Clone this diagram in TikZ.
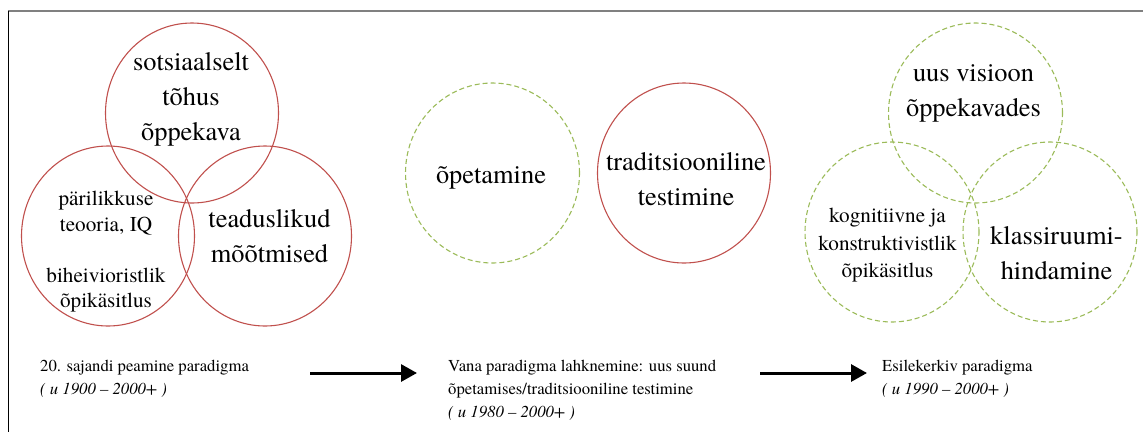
\documentclass[tikz,border=0pt]{standalone}
\usepackage{fontspec}
\setmainfont{texgyretermes}[Extension=.otf, UprightFont=*-regular, BoldFont=*-bold, ItalicFont=*-italic, BoldItalicFont=*-bolditalic]
\usetikzlibrary{shapes.geometric,arrows.meta}
\definecolor{redc}{HTML}{C0504D}
\definecolor{greenc}{HTML}{9BBB59}
\definecolor{framegray}{HTML}{808080}
\begin{document}
\begin{tikzpicture}[x=1pt,y=-1pt,
  redring/.style={draw=redc, line width=1.1pt, ellipse, minimum width=173pt, minimum height=180pt, inner sep=0pt},
  greenring/.style={draw=greenc, line width=1.1pt, dash pattern=on 5pt off 3pt, ellipse, minimum width=174pt, minimum height=180pt, inner sep=0pt},
  bigtext/.style={font=\fontsize{26.4}{35}\selectfont, align=center, inner sep=0pt},
  smalltext/.style={font=\fontsize{21.2}{25.5}\selectfont, align=center, inner sep=0pt},
  captext/.style={font=\fontsize{16.7}{23}\selectfont, align=left, anchor=north west, inner sep=0pt},
  flow/.style={line width=3pt, -{Triangle[length=16pt,width=17pt]}}]
\useasboundingbox (0,0) rectangle (1143,432);
% frame
\draw[framegray, line width=1.6pt] (8,11) -- (1143,11);
\draw[black, line width=1pt] (8,11) -- (8,432);
% left group
\node[redring] (c1) at (192,113) {};
\node[redring] (c2) at (108,236) {};
\node[redring] (c3) at (265,236) {};
\node[bigtext] (t1) at (191,99) {sotsiaalselt\\tõhus\\õppekava};
\node[smalltext] (t2) at (106,252) {pärilikkuse\\teooria, IQ\\[25.5pt]biheivioristlik\\õpikäsitlus};
\node[bigtext] (t3) at (269.5,236.5) {teaduslikud\\mõõtmised};
% middle group
\node[greenring] (c4) at (492.5,173) {};
\node[redring] (c5) at (684,173) {};
\node[bigtext] (t4) at (491,178) {õpetamine};
\node[bigtext] (t5) at (686,179.5) {traditsiooniline\\testimine};
% right group
\node[greenring] (c6) at (975.5,113) {};
\node[greenring] (c7) at (892,232) {};
\node[greenring] (c8) at (1050,232) {};
\node[bigtext] (t6) at (973.5,93.5) {uus visioon\\õppekavades};
\node[smalltext, font=\fontsize{21.2}{27.5}\selectfont] (t7) at (887.5,245.5) {kognitiivne ja\\konstruktivistlik\\õpikäsitlus};
\node[bigtext] (t8) at (1056.5,253.5) {klassiruumi-\\hindamine};
% captions
\node[captext] (p1) at (40,359.5) {20. sajandi peamine paradigma\\{\itshape ( u 1900 – 2000+ )}};
\node[captext] (p2) at (448,359.5) {Vana paradigma lahknemine: uus suund\\õpetamises/traditsiooniline testimine\\{\itshape ( u 1980 – 2000+ )}};
\node[captext] (p3) at (882,359.5) {Esilekerkiv paradigma\\{\itshape ( u 1990 – 2000+ )}};
% arrows
\coordinate (a1s) at (310,373);
\coordinate (a1e) at (417,373);
\coordinate (a2s) at (760,373);
\coordinate (a2e) at (867,373);
\draw[flow] (a1s) -- (a1e);
\draw[flow] (a2s) -- (a2e);
\end{tikzpicture}
\end{document}
